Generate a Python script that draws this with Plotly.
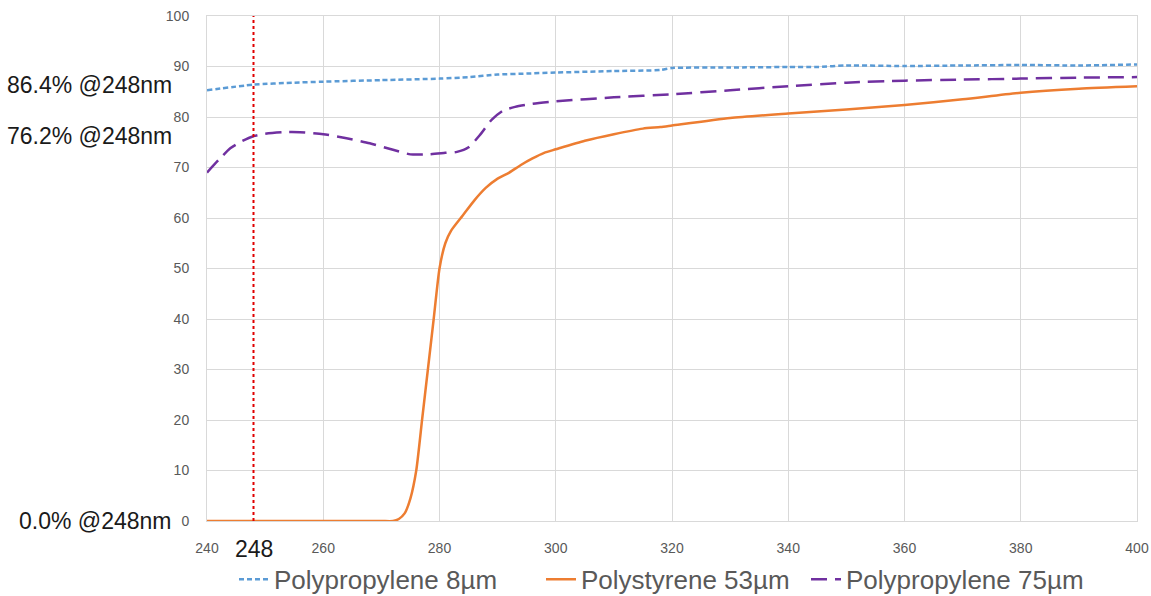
import plotly.graph_objects as go

# ---- data ----
pp8_x = [240, 248, 255, 260, 270, 280, 285, 290, 295, 300, 310, 318, 320, 330, 340, 345, 350, 360, 370, 380, 390, 400]
pp8_y = [85.3, 86.4, 86.8, 87.0, 87.3, 87.6, 87.9, 88.4, 88.6, 88.8, 89.1, 89.3, 89.7, 89.8, 89.9, 89.9, 90.2, 90.1, 90.2, 90.3, 90.2, 90.4]

ps53_x = [240, 250, 260, 270, 272, 273, 274, 275, 276, 277, 278, 279, 280, 281, 282, 284, 286, 288, 290, 292, 294, 296, 298, 300, 305, 310, 315, 318, 320, 330, 340, 350, 360, 370, 380, 390, 400]
ps53_y = [0, 0, 0, 0, 0, 0.4, 1.5, 4.5, 10, 20, 30, 40, 50, 55, 57.5, 60.5, 63.5, 66, 67.8, 69.0, 70.5, 71.8, 72.9, 73.6, 75.3, 76.6, 77.7, 78.0, 78.3, 79.8, 80.7, 81.5, 82.4, 83.5, 84.8, 85.6, 86.1]

pp75_x = [240, 242, 244, 246, 248, 250, 253, 256, 260, 264, 268, 272, 275, 278, 281, 283, 285, 287, 289, 291, 293, 296, 300, 310, 320, 330, 340, 350, 360, 370, 380, 390, 400]
pp75_y = [69.0, 71.5, 73.8, 75.2, 76.2, 76.7, 77.0, 77.0, 76.6, 75.8, 74.8, 73.5, 72.6, 72.6, 72.9, 73.1, 74.0, 76.5, 79.5, 81.3, 82.0, 82.6, 83.1, 83.9, 84.5, 85.3, 86.1, 86.8, 87.2, 87.4, 87.6, 87.8, 87.9]

marker_nm = 248
annot_texts = ["86.4% @248nm", "76.2% @248nm", "0.0% @248nm"]
annot_vals = [86.4, 76.2, 0.0]
x_ticks = [240, 260, 280, 300, 320, 340, 360, 380, 400]
y_ticks = [0, 10, 20, 30, 40, 50, 60, 70, 80, 90, 100]

FONT = "Liberation Sans, Arial, sans-serif"
GRID = "#D9D9D9"

fig = go.Figure()
fig.add_trace(go.Scatter(x=pp8_x, y=pp8_y, mode="lines", name="Polypropylene 8µm", legend="legend",
                         line=dict(color="#5B9BD5", width=2.5, dash="5px,3px", shape="spline", smoothing=0.6)))
fig.add_trace(go.Scatter(x=ps53_x, y=ps53_y, mode="lines", name="Polystyrene 53µm", legend="legend2",
                         line=dict(color="#ED7D31", width=2.5, shape="spline", smoothing=0.6)))
fig.add_trace(go.Scatter(x=pp75_x, y=pp75_y, mode="lines", name="Polypropylene 75µm", legend="legend3",
                         line=dict(color="#7030A0", width=2.5, dash="16px,8px", shape="spline", smoothing=0.6)))

fig.add_shape(type="line", x0=marker_nm, x1=marker_nm, y0=0, y1=1, xref="x", yref="paper",
              line=dict(color="#E00000", width=2, dash="dot"))

for t, v in zip(annot_texts, annot_vals):
    fig.add_annotation(text=t, x=0, xref="paper", y=v, yref="y", xanchor="right", yanchor="middle",
                       xshift=-33, showarrow=False, font=dict(family=FONT, size=23, color="#1a1a1a"))

fig.add_annotation(text=str(marker_nm), x=marker_nm, xref="x", y=-0.055, yref="paper",
                   xanchor="center", yanchor="middle", showarrow=False,
                   font=dict(family=FONT, size=23, color="#1a1a1a"))

fig.update_xaxes(range=[240, 400], tickvals=x_ticks, showgrid=True, gridcolor=GRID, gridwidth=1,
                 showline=True, linecolor=GRID, mirror=True, zeroline=False, ticks="", automargin=False,
                 ticklabelstandoff=14, tickfont=dict(family=FONT, size=14, color="#595959"))
fig.update_yaxes(range=[0, 100], tickvals=y_ticks, showgrid=True, gridcolor=GRID, gridwidth=1,
                 showline=True, linecolor=GRID, mirror=True, zeroline=False, ticks="", automargin=False,
                 ticklabelstandoff=14, tickfont=dict(family=FONT, size=14, color="#595959"))

def leg(xpx):
    return dict(orientation="h", xref="container", x=xpx / 1151, xanchor="left",
                yref="container", y=0.028, yanchor="middle",
                font=dict(family=FONT, size=26, color="#595959"), itemwidth=30,
                bgcolor="rgba(0,0,0,0)")

fig.update_layout(
    width=1151, height=596,
    margin=dict(l=207, r=14, t=16, b=75, autoexpand=False),
    paper_bgcolor="white", plot_bgcolor="white",
    showlegend=True,
    legend=leg(234),
    legend2=leg(541),
    legend3=leg(806),
    hovermode=False,
)

fig.write_html("out.html")
